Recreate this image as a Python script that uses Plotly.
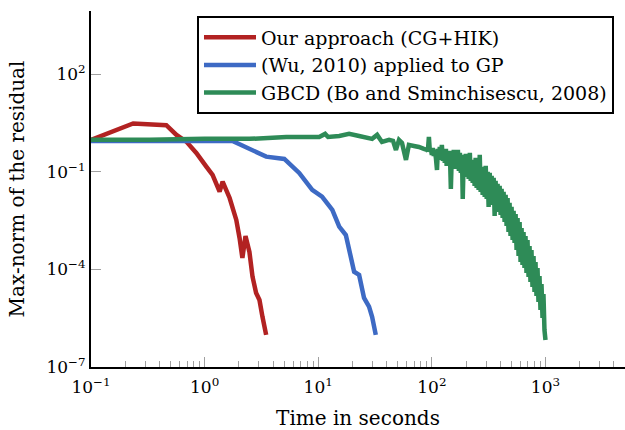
import plotly.graph_objects as go

# Convergence of the max-norm of the residual over wall-clock time (seconds)

# Our approach (CG+HIK)
cg_time = [0.1, 0.235, 0.46, 0.565, 0.69, 0.845, 1.035, 1.175, 1.355, 1.44,
           1.66, 1.9, 2.03, 2.15, 2.29, 2.48, 2.64, 2.84, 3.04, 3.23, 3.48]
cg_resid = [0.97, 3.1, 2.75, 1.37, 0.855, 0.385, 0.146, 0.081, 0.0248, 0.0504,
            0.0158, 0.00333, 9.3e-4, 2.26e-4, 1.07e-3, 3.45e-4, 6.0e-5, 1.9e-5,
            1.15e-5, 3.5e-6, 9.7e-7]

# (Wu, 2010) applied to GP
wu_time = [0.1, 1.76, 3.48, 5.03, 6.8, 8.85, 10.8, 13.3, 15.3, 17.5, 20.7,
           22.9, 25.3, 28.0, 29.8, 32.1]
wu_resid = [0.9, 0.9, 0.296, 0.251, 0.093, 0.0279, 0.0174, 0.00678, 0.00207,
            0.00115, 8.5e-5, 6.8e-5, 1.33e-5, 7.2e-6, 3.5e-6, 9.7e-7]

# GBCD (Bo and Sminchisescu, 2008): slow start, then a noisy decay
gbcd_time = [
    0.1, 0.33, 1.0, 2.48, 5.24, 6.81, 10.2, 11.5, 12.2, 15.3, 18.7, 22.9,
    29.8, 33.0, 36.4, 42.0, 45.5, 48.3, 51.4, 54.6, 59.2, 62.8, 69.5, 76.9,
    85.1,
    90.4, 92.2, 94.2, 96.1, 98.0, 100.0, 102, 104, 106, 108.5, 111, 113,
    115, 117.5, 120, 122.5, 125, 127.5, 130, 133, 135, 138, 141, 144, 147,
    150, 153, 156, 159, 163, 166, 169.5, 173, 176.5, 180, 184, 187, 191,
    195, 199, 203, 207, 211, 216, 220, 225, 229, 234, 238, 243, 248, 253,
    258, 264, 269, 275, 280, 286, 292, 298, 304, 310, 316, 323, 329, 336,
    343, 350, 357, 364, 372, 379, 387, 395, 403, 411, 420, 428, 437, 446,
    455, 464, 473, 483, 493, 503, 514, 524, 535, 546, 557, 568, 580, 592,
    604, 616, 628, 641, 654, 667, 681, 695, 710, 724, 738, 753, 769, 785,
    801, 817, 834, 851, 868, 886, 904, 923, 942, 960, 980, 1000]
gbcd_resid = [
    0.97, 0.97, 1.04, 1.04, 1.19, 1.19, 1.19, 1.48, 1.19, 1.28, 1.48, 1.28,
    1.04, 1.38, 0.838, 0.966, 0.899, 0.475, 0.966, 0.780, 0.234, 0.678,
    0.631, 0.588, 0.510,
    0.475, 0.443, 1.194, 0.412, 0.510, 0.334, 0.548, 0.311, 0.475, 0.270,
    0.1152, 0.510, 0.251, 0.588, 0.234, 0.677, 0.218, 0.475, 0.189, 0.510,
    0.153, 0.412, 0.176, 0.443, 0.0300, 0.384, 0.1425, 0.475, 0.1237,
    0.412, 0.1327, 0.475, 0.1073, 0.384, 0.0932, 0.334, 0.01476, 0.311,
    0.0809, 0.358, 0.0702, 0.270, 0.0609, 0.384, 0.0529, 0.234, 0.0459,
    0.203, 0.0371, 0.270, 0.0322, 0.164, 0.0279, 0.334, 0.0243, 0.1425,
    0.0196, 0.1237, 0.0170, 0.153, 0.01476, 0.1, 0.00838, 0.0932, 0.01112,
    0.0753, 0.00965, 0.0654, 0.00443, 0.0529, 0.00727, 0.0428, 0.00588,
    0.0371, 0.00475, 0.0300, 0.00384, 0.0243, 0.00289, 0.0196, 0.00218,
    0.0158, 0.001425, 0.01112, 0.001073, 0.00838, 8.09e-4, 0.00631,
    6.54e-4, 0.00510, 3.98e-4, 0.00384, 2.60e-4, 0.00289, 1.70e-4,
    0.00189, 1.375e-4, 0.001425, 1.112e-4, 0.001073, 7.80e-5, 8.09e-4,
    5.88e-5, 5.28e-4, 4.12e-5, 3.98e-4, 2.89e-5, 2.60e-4, 2.03e-5,
    1.70e-4, 1.53e-5, 1.112e-4, 1.0e-5, 6.31e-5, 5.67e-6, 3.58e-5,
    3.22e-6, 1.76e-5, 1.375e-6, 6.77e-7]

x_ticks = [0.1, 1, 10, 100, 1000]
x_labels = ["10<sup>−1</sup>", "10<sup>0</sup>", "10<sup>1</sup>",
            "10<sup>2</sup>", "10<sup>3</sup>"]
x_minor = [m * 10 ** e for e in range(-1, 4) for m in range(2, 10) if m * 10 ** e <= 5000]
y_ticks = [1e-7, 1e-4, 1e-1, 1e2]
y_labels = ["10<sup>−7</sup>", "10<sup>−4</sup>", "10<sup>−1</sup>", "10<sup>2</sup>"]

RED = "#b22222"
BLUE = "#3d6ac4"
GREEN = "#2e8b57"
FONT = "DejaVu Serif"

fig = go.Figure()
fig.add_trace(go.Scatter(x=cg_time, y=cg_resid, mode="lines",
                         name="Our approach (CG+HIK)",
                         line=dict(color=RED, width=4.5, simplify=False)))
fig.add_trace(go.Scatter(x=wu_time, y=wu_resid, mode="lines",
                         name="(Wu, 2010) applied to GP",
                         line=dict(color=BLUE, width=4.5, simplify=False)))
fig.add_trace(go.Scatter(x=gbcd_time, y=gbcd_resid, mode="lines",
                         name="GBCD (Bo and Sminchisescu, 2008)",
                         line=dict(color=GREEN, width=4.5, simplify=False)))

fig.update_layout(
    width=625, height=430,
    margin=dict(l=91, r=0, t=11, b=63),
    paper_bgcolor="white", plot_bgcolor="white",
    font=dict(family=FONT, size=17, color="black"),
    legend=dict(x=0.1985, y=0.985, xanchor="left", yanchor="top",
                bordercolor="black", borderwidth=2, bgcolor="white",
                itemwidth=52, tracegroupgap=0,
                font=dict(family=FONT, size=19)),
)
fig.update_xaxes(
    type="log", range=[-1, 3.7],
    showline=True, linecolor="black", linewidth=2, mirror=False,
    showgrid=False, zeroline=False,
    tickmode="array", tickvals=x_ticks, ticktext=x_labels,
    ticks="inside", ticklen=10, tickcolor="#a0a0a0", tickwidth=1,
    ticklabelstandoff=4,
    minor=dict(tickmode="array", tickvals=x_minor, ticks="inside", ticklen=6,
               tickcolor="#a0a0a0", tickwidth=1, showgrid=False),
    title=dict(text="Time in seconds", font=dict(family=FONT, size=20), standoff=16),
)
fig.update_yaxes(
    type="log", range=[-7, 3.95],
    showline=True, linecolor="black", linewidth=2, mirror=False,
    showgrid=False, zeroline=False,
    tickmode="array", tickvals=y_ticks, ticktext=y_labels,
    ticks="inside", ticklen=10, tickcolor="#a0a0a0", tickwidth=1,
    title=dict(text="Max-norm of the residual", font=dict(family=FONT, size=20), standoff=16),
)

fig.write_html("out.html")
